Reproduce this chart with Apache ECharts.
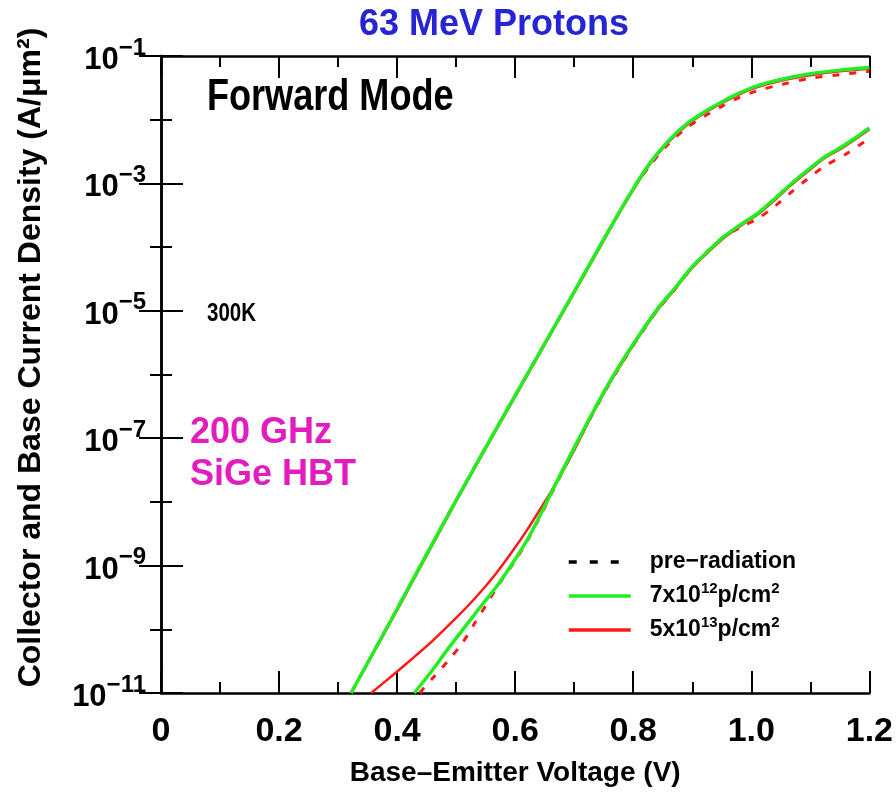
<!DOCTYPE html>
<html><head><meta charset="utf-8">
<script src="https://cdn.jsdelivr.net/npm/echarts@6/dist/echarts.min.js"></script>
<style>html,body{margin:0;padding:0;background:#fff}#c{width:896px;height:795px}</style>
</head><body><div id="c"></div>
<script>
// ---- data (current density in A/um^2 vs base-emitter voltage in V) ----
const xTicks = [0, 0.2, 0.4, 0.6, 0.8, 1.0, 1.2];
const yTickExps = [-11, -9, -7, -5, -3, -1];

// Collector current (upper curves)
const icVolt = [0.322, 0.40, 0.50, 0.60, 0.70, 0.74, 0.77, 0.80, 0.83, 0.86, 0.89, 0.92, 0.95, 0.98, 1.01, 1.05, 1.10, 1.15, 1.2];
const ic7e12 = [1e-11, 2.1e-10, 1.07e-8, 4.7e-7, 2.0e-5, 9.1e-5, 2.8e-4, 8.3e-4, 2.2e-3, 4.7e-3, 8.5e-3, 1.32e-2, 1.9e-2, 2.63e-2, 3.4e-2, 4.27e-2, 5.25e-2, 6.0e-2, 6.6e-2];
const ic5e13 = [1e-11, 2.0e-10, 1.03e-8, 4.5e-7, 1.92e-5, 8.7e-5, 2.7e-4, 7.9e-4, 2.1e-3, 4.5e-3, 8.1e-3, 1.26e-2, 1.82e-2, 2.5e-2, 3.25e-2, 4.1e-2, 5.0e-2, 5.75e-2, 6.3e-2];
const icPre  = [1e-11, 2.1e-10, 1.07e-8, 4.7e-7, 2.0e-5, 9.1e-5, 2.8e-4, 8.2e-4, 2.0e-3, 4.2e-3, 7.4e-3, 1.12e-2, 1.62e-2, 2.24e-2, 2.85e-2, 3.55e-2, 4.47e-2, 5.1e-2, 5.75e-2];

// Base current (lower curves)
const ibVolt7 = [0.429, 0.46, 0.488, 0.533, 0.572, 0.60, 0.62, 0.64, 0.66, 0.68, 0.70, 0.73, 0.758, 0.786, 0.814, 0.842, 0.871, 0.898, 0.927, 0.955, 0.989, 1.011, 1.04, 1.067, 1.095, 1.124, 1.158, 1.2];
const ib7e12  = [1e-11, 2.3e-11, 5.2e-11, 1.8e-10, 5.2e-10, 1.26e-9, 2.5e-9, 5.6e-9, 1.32e-8, 3.1e-8, 7.1e-8, 2.4e-7, 7.1e-7, 1.9e-6, 4.7e-6, 1.1e-5, 2.3e-5, 4.7e-5, 8.7e-5, 1.5e-4, 2.5e-4, 3.4e-4, 5.8e-4, 9.8e-4, 1.6e-3, 2.6e-3, 4.0e-3, 7.4e-3];
const ibVolt5 = [0.356, 0.381, 0.403, 0.432, 0.46, 0.499, 0.533, 0.567, 0.595, 0.62, 0.64, 0.66, 0.68, 0.70, 0.73, 0.758, 0.786, 0.814, 0.842, 0.871, 0.898, 0.927, 0.955, 0.989, 1.011, 1.04, 1.067, 1.095, 1.124, 1.158, 1.2];
const ib5e13  = [1e-11, 1.55e-11, 2.3e-11, 3.9e-11, 6.6e-11, 1.48e-10, 3.16e-10, 7.4e-10, 1.66e-9, 3.6e-9, 7.1e-9, 1.41e-8, 2.95e-8, 6.5e-8, 2.3e-7, 6.8e-7, 1.8e-6, 4.5e-6, 1.05e-5, 2.2e-5, 4.5e-5, 8.3e-5, 1.43e-4, 2.4e-4, 3.25e-4, 5.5e-4, 9.3e-4, 1.52e-3, 2.48e-3, 3.8e-3, 7.0e-3];
const ibVoltPre = [0.438, 0.46, 0.485, 0.51, 0.531, 0.552, 0.572, 0.60, 0.62, 0.64, 0.66, 0.68, 0.70, 0.73, 0.758, 0.786, 0.814, 0.842, 0.871, 0.90, 0.95, 0.989, 1.011, 1.04, 1.067, 1.095, 1.124, 1.158, 1.2];
const ibPre     = [1e-11, 1.7e-11, 3.1e-11, 6.0e-11, 1.23e-10, 2.5e-10, 5.0e-10, 1.2e-9, 2.4e-9, 5.4e-9, 1.26e-8, 2.95e-8, 6.8e-8, 2.3e-7, 6.8e-7, 1.8e-6, 4.5e-6, 1.05e-5, 2.2e-5, 4.8e-5, 1.38e-4, 2.2e-4, 2.8e-4, 4.4e-4, 7.2e-4, 1.17e-3, 1.86e-3, 2.8e-3, 5.1e-3];

const names = ['pre\u2212radiation', '7x10^12p/cm^2', '5x10^13p/cm^2'];

// ---- chart ----
const SANS = "'Liberation Sans', Arial, Helvetica, sans-serif";
const toPts = (xs, ys) => xs.map((x, i) => [x, Math.log10(ys[i])]);
const chart = echarts.init(document.getElementById('c'), null, {renderer: 'canvas'});

const axisLine = {show: true, lineStyle: {color: '#000', width: 2.5}};
const tick = {show: true, inside: true, length: 22, lineStyle: {color: '#000', width: 2}};
const minor = {show: true, splitNumber: 2, length: 11, lineStyle: {color: '#000', width: 2}};
const RED = '#ff1a1a', GREEN = '#22ee22';

function mk(name, xs, ys, color, dashed, width, z) {
  return {
    name, type: 'line', data: toPts(xs, ys), symbol: 'none', smooth: 0.3, z,
    lineStyle: {color, width, type: dashed ? [7, 10] : 'solid'},
    itemStyle: {color}, emphasis: {disabled: true}, animation: false
  };
}

const supFmt = s => s.replace(/\^(\d+)/g, '{s|$1}');
const hidden = {color: 'transparent', borderColor: 'transparent', borderWidth: 0};

chart.setOption({
  animation: false,
  backgroundColor: '#fff',
  title: {
    text: '63 MeV Protons', left: 354, top: 2,
    textStyle: {color: '#2525d6', fontSize: 36, fontWeight: 'bold', fontFamily: SANS}
  },
  grid: {left: 161, top: 56, right: 24, bottom: 102, containLabel: false},
  xAxis: [{
    type: 'value', min: 0, max: 1.2, interval: 0.2, position: 'bottom',
    axisLine, axisTick: tick, minorTick: minor, splitLine: {show: false},
    axisLabel: {
      margin: 22, color: '#000', fontSize: 34, fontWeight: 'bold', fontFamily: SANS,
      showMinLabel: true, showMaxLabel: true,
      formatter: v => (Math.abs(v - xTicks[0]) < 1e-9 ? '0' : v.toFixed(1))
    },
    name: 'Base\u2013Emitter Voltage (V)', nameLocation: 'middle', nameGap: 66,
    nameTextStyle: {color: '#000', fontSize: 28, fontWeight: 'bold', fontFamily: SANS}
  }, {
    type: 'value', min: 0, max: 1.2, interval: 0.2, position: 'top',
    axisLine, axisTick: tick, minorTick: minor, splitLine: {show: false},
    axisLabel: {show: false}
  }],
  yAxis: [{
    type: 'value', min: -11, max: -1, interval: 2, position: 'left',
    axisLine, axisTick: tick, minorTick: minor, splitLine: {show: false},
    axisLabel: {
      margin: 15, color: '#000',
      formatter: v => yTickExps.includes(v) ? '{b|10}{s|\u2212' + (-v) + '}' : '',
      rich: {
        b: {fontSize: 31, fontWeight: 'bold', fontFamily: SANS, lineHeight: 40, verticalAlign: 'bottom'},
        s: {fontSize: 24, fontWeight: 'bold', fontFamily: SANS, lineHeight: 24, verticalAlign: 'top'}
      }
    },
    name: 'Collector and Base Current Density (A/\u03bcm\u00b2)', nameLocation: 'middle', nameGap: 114,
    nameRotate: 90,
    nameTextStyle: {color: '#000', fontSize: 32, fontWeight: 'bold', fontFamily: SANS, padding: [0, 0, 0, 34]}
  }, {
    type: 'value', min: -11, max: -1, interval: 2, position: 'right',
    axisLine, axisTick: tick, minorTick: minor, splitLine: {show: false},
    axisLabel: {show: false}
  }],
  legend: {
    orient: 'vertical', left: 561, top: 541, padding: [6, 40, 8, 6],
    backgroundColor: '#fff', itemWidth: 62, itemHeight: 14, itemGap: 4,
    selectedMode: false,
    itemStyle: hidden,
    data: [
      {name: names[0], lineStyle: {color: '#000', type: [8, 13], width: 3.5}, itemStyle: hidden},
      {name: names[1], lineStyle: {width: 3.5}, itemStyle: hidden},
      {name: names[2], lineStyle: {width: 3.5}, itemStyle: hidden}
    ],
    formatter: n => supFmt(n),
    textStyle: {
      color: '#000', fontSize: 23, fontWeight: 'bold', fontFamily: SANS, lineHeight: 30,
      padding: [0, 0, 0, 14],
      rich: {
        s: {fontSize: 15, fontWeight: 'bold', fontFamily: SANS, lineHeight: 15, verticalAlign: 'top', color: '#000'}
      }
    }
  },
  graphic: [
    {type: 'text', x: 207, y: 98, scaleX: 0.82, z: 10,
      style: {text: 'Forward Mode', fontSize: 44, fontWeight: 'bold', fontFamily: SANS, fill: '#000', verticalAlign: 'middle'}},
    {type: 'text', x: 207, y: 314, scaleX: 0.82, z: 10,
      style: {text: '300K', fontSize: 25, fontWeight: 'bold', fontFamily: SANS, fill: '#000', verticalAlign: 'middle'}},
    {type: 'text', x: 190, y: 412, z: 10,
      style: {text: '200 GHz\nSiGe HBT', fontSize: 36, lineHeight: 42, fontWeight: 'bold', fontFamily: SANS, fill: '#e21cbf'}}
  ],
  series: [
    mk(names[0], icVolt, icPre, RED, true, 3, 2),
    mk(names[0], ibVoltPre, ibPre, RED, true, 3, 2),
    mk(names[2], icVolt, ic5e13, RED, false, 2.5, 3),
    mk(names[2], ibVolt5, ib5e13, RED, false, 2.5, 3),
    mk(names[1], icVolt, ic7e12, GREEN, false, 3.5, 4),
    mk(names[1], ibVolt7, ib7e12, GREEN, false, 3.5, 4)
  ]
});
</script></body></html>
